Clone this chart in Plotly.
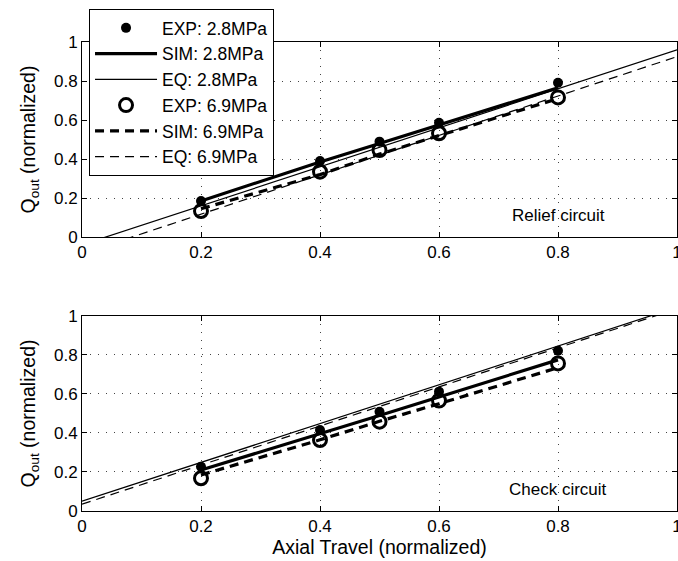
import plotly.graph_objects as go

# ---- data ----
x_exp = [0.2, 0.4, 0.5, 0.6, 0.8]
x_eq = [0, 1]

relief_exp_28 = [0.185, 0.39, 0.489, 0.586, 0.791]
relief_sim_28 = [0.185, 0.385, 0.48, 0.575, 0.765]
relief_eq_28 = [-0.04, 0.96]
relief_exp_69 = [0.133, 0.335, 0.446, 0.532, 0.716]
relief_sim_69 = [0.145, 0.32, 0.425, 0.52, 0.71]
relief_eq_69 = [-0.085, 0.925]

check_exp_28 = [0.227, 0.415, 0.509, 0.612, 0.822]
check_sim_28 = [0.21, 0.395, 0.49, 0.585, 0.775]
check_eq_28 = [0.05, 1.045]
check_exp_69 = [0.168, 0.364, 0.458, 0.566, 0.757]
check_sim_69 = [0.185, 0.365, 0.46, 0.55, 0.735]
check_eq_69 = [0.035, 1.037]

tick_vals = [0, 0.2, 0.4, 0.6, 0.8, 1]
tick_text = ["0", "0.2", "0.4", "0.6", "0.8", "1"]

names = ["EXP: 2.8MPa", "SIM: 2.8MPa", "EQ: 2.8MPa",
         "EXP: 6.9MPa", "SIM: 6.9MPa", "EQ: 6.9MPa"]

FONT = "Liberation Sans, Arial, Helvetica, sans-serif"

fig = go.Figure()


def add_set(xa, ya, exp28, sim28, eq28, exp69, sim69, eq69, show):
    fig.add_trace(go.Scatter(x=x_exp, y=exp28, mode="markers", name=names[0],
                             marker=dict(symbol="circle", size=10, color="black"),
                             xaxis=xa, yaxis=ya, showlegend=show))
    fig.add_trace(go.Scatter(x=x_exp, y=sim28, mode="lines", name=names[1],
                             line=dict(color="black", width=3.2),
                             xaxis=xa, yaxis=ya, showlegend=show))
    fig.add_trace(go.Scatter(x=x_eq, y=eq28, mode="lines", name=names[2],
                             line=dict(color="black", width=1.2),
                             xaxis=xa, yaxis=ya, showlegend=show))
    fig.add_trace(go.Scatter(x=x_exp, y=exp69, mode="markers", name=names[3],
                             marker=dict(symbol="circle-open", size=13, color="black",
                                         line=dict(width=3, color="black")),
                             xaxis=xa, yaxis=ya, showlegend=show))
    fig.add_trace(go.Scatter(x=x_exp, y=sim69, mode="lines", name=names[4],
                             line=dict(color="black", width=3.2, dash="9px,6px"),
                             xaxis=xa, yaxis=ya, showlegend=show))
    fig.add_trace(go.Scatter(x=x_eq, y=eq69, mode="lines", name=names[5],
                             line=dict(color="black", width=1.2, dash="9px,6px"),
                             xaxis=xa, yaxis=ya, showlegend=show))


add_set("x", "y", relief_exp_28, relief_sim_28, relief_eq_28,
        relief_exp_69, relief_sim_69, relief_eq_69, True)
add_set("x2", "y2", check_exp_28, check_sim_28, check_eq_28,
        check_exp_69, check_sim_69, check_eq_69, False)

axis_common = dict(
    range=[0, 1], tickvals=tick_vals, ticktext=tick_text,
    ticks="inside", ticklen=5, tickcolor="black", tickwidth=1,
    showline=True, linecolor="black", linewidth=1, mirror="ticks",
    showgrid=True, gridcolor="#444", gridwidth=1, griddash="1px,7px",
    zeroline=False, tickfont=dict(size=17, color="black", family=FONT),
    ticklabeloverflow="allow", automargin=False,
)

ytitle = dict(text="Q<sub>out</sub> (normalized)", font=dict(size=19.5, color="black", family=FONT),
              standoff=13)

fig.update_layout(
    width=678, height=561, autosize=False,
    margin=dict(l=82, r=1, t=42, b=50, autoexpand=False),
    paper_bgcolor="white", plot_bgcolor="white",
    font=dict(family=FONT, color="black"),
    xaxis=dict(domain=[0, 1], anchor="y", **axis_common),
    yaxis=dict(domain=[0.5842, 1], anchor="x", title=ytitle, **axis_common),
    xaxis2=dict(domain=[0, 1], anchor="y2",
                title=dict(text="Axial Travel (normalized)",
                           font=dict(size=19.5, color="black", family=FONT), standoff=4),
                **axis_common),
    yaxis2=dict(domain=[0, 0.4158], anchor="x2", title=ytitle, **axis_common),
    legend=dict(x=0.0118, y=1.0704, xanchor="left", yanchor="top",
                bgcolor="white", bordercolor="black", borderwidth=1,
                font=dict(size=17.5, color="black", family=FONT),
                itemwidth=62, tracegroupgap=0),
    showlegend=True,
    annotations=[
        dict(text="Relief circuit", x=0.8, y=0.11, xref="x", yref="y",
             showarrow=False, font=dict(size=17, color="black", family=FONT)),
        dict(text="Check circuit", x=0.8, y=0.11, xref="x2", yref="y2",
             showarrow=False, font=dict(size=17, color="black", family=FONT)),
    ],
)

fig.write_html("out.html", config={"displayModeBar": False, "responsive": False},
               default_width="678px", default_height="561px",
               post_script="document.body.style.margin='0';document.body.style.overflow='hidden';")
